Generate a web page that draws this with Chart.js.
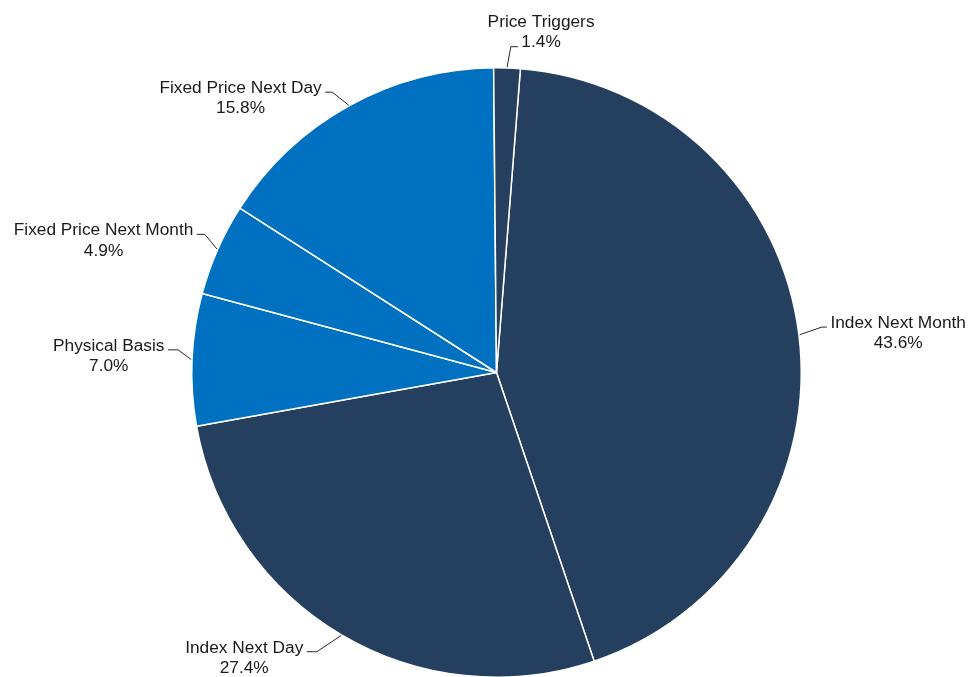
<!DOCTYPE html>
<html>
<head>
<meta charset="utf-8">
<script src="https://cdn.jsdelivr.net/npm/chart.js@4/dist/chart.umd.min.js"></script>
<style>
  html, body { margin: 0; padding: 0; background: #ffffff; overflow: hidden; }
  #wrap { width: 969px; height: 690px; }
</style>
</head>
<body>
<div id="wrap"><canvas id="pie" width="969" height="690"></canvas></div>
<script>
// Share of trading volume by product type (percent)
const categories = [
  'Index Next Month',
  'Index Next Day',
  'Physical Basis',
  'Fixed Price Next Month',
  'Fixed Price Next Day',
  'Price Triggers'
];
const shares = [43.6, 27.4, 7.0, 4.9, 15.8, 1.4];

const NAVY = '#253F5F';
const BLUE = '#0070C0';
const sliceColors = [NAVY, NAVY, BLUE, BLUE, BLUE, NAVY];

// Leader-line layout per label: end point offset from the slice edge,
// length of the horizontal elbow, side of the text, and which text line it meets.
const labelLayout = [
  { dx: 27.3, dy: -7.7,  elbow: 5,  side: 'right', line: 0 },
  { dx: -34.3, dy: 16.2, elbow: 10, side: 'left',  line: 0 },
  { dx: -23.3, dy: -9.7, elbow: 10, side: 'left',  line: 0 },
  { dx: -20.2, dy: -14.7, elbow: 8, side: 'left',  line: 0 },
  { dx: -23.4, dy: -13,  elbow: 7,  side: 'left',  line: 0 },
  { dx: 10.8, dy: -20.5, elbow: 7,  side: 'right', line: 1 }
];

const LABEL_FONT = '17.3px "Liberation Sans", Arial, sans-serif';
const LINE_GAP = 20.5;

const outsideLabels = {
  id: 'outsideLabels',
  afterDatasetsDraw(chart) {
    const ctx = chart.ctx;
    const meta = chart.getDatasetMeta(0);
    ctx.save();
    ctx.font = LABEL_FONT;
    ctx.textBaseline = 'alphabetic';
    ctx.textAlign = 'center';
    meta.data.forEach((arc, i) => {
      const p = arc.getProps(['x', 'y', 'startAngle', 'endAngle', 'outerRadius'], true);
      const mid = (p.startAngle + p.endAngle) / 2;
      const r = p.outerRadius + 0.75;
      const px = p.x + Math.cos(mid) * r;
      const py = p.y + Math.sin(mid) * r;
      const lay = labelLayout[i];
      const ex = px + lay.dx;
      const ey = py + lay.dy;
      const dir = lay.side === 'right' ? 1 : -1;
      const kx = ex - dir * lay.elbow;

      // leader line: slice edge -> knee -> horizontal end
      ctx.strokeStyle = '#262626';
      ctx.lineWidth = 1;
      ctx.beginPath();
      ctx.moveTo(px, py);
      ctx.lineTo(kx, ey);
      ctx.lineTo(ex, ey);
      ctx.stroke();

      const lines = [categories[i], shares[i].toFixed(1) + '%'];
      const refW = ctx.measureText(lines[lay.line]).width;
      const gap = 3.5;
      const cx = ex + dir * (gap + refW / 2);
      const baseRef = ey + 0.8;
      ctx.fillStyle = '#1a1a1a';
      lines.forEach((t, j) => {
        ctx.fillText(t, cx, baseRef + (j - lay.line) * LINE_GAP);
      });
    });
    ctx.restore();
  }
};

new Chart(document.getElementById('pie'), {
  type: 'pie',
  data: {
    labels: categories,
    datasets: [{
      data: shares,
      backgroundColor: sliceColors,
      borderColor: '#ffffff',
      borderWidth: 1.5
    }]
  },
  options: {
    responsive: false,
    animation: false,
    rotation: 4.5,
    layout: { padding: { left: 191, right: 167, top: 67, bottom: 12 } },
    plugins: {
      legend: { display: false },
      tooltip: { enabled: false }
    }
  },
  plugins: [outsideLabels]
});
</script>
</body>
</html>
